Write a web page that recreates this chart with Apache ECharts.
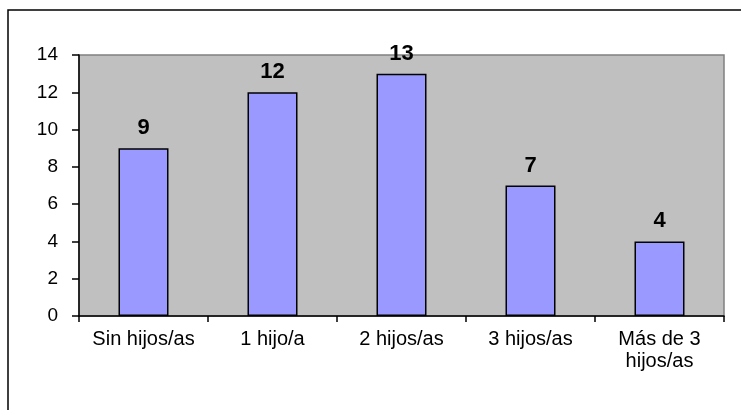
<!DOCTYPE html>
<html>
<head>
<meta charset="utf-8">
<script src="https://cdn.jsdelivr.net/npm/echarts@6/dist/echarts.min.js"></script>
<style>
  html, body { margin: 0; padding: 0; background: #fff; }
  #chart { width: 741px; height: 410px; }
</style>
</head>
<body>
<div id="chart"></div>
<script>
const categories = ['Sin hijos/as', '1 hijo/a', '2 hijos/as', '3 hijos/as', 'Más de 3\nhijos/as'];
const counts = [9, 12, 13, 7, 4];
const yTicks = { min: 0, max: 14, step: 2 };

const chart = echarts.init(document.getElementById('chart'));
const font = 'Liberation Sans, Arial, sans-serif';

chart.setOption({
  animation: false,
  graphic: [
    {
      type: 'rect',
      shape: { x: 8, y: 10, width: 750, height: 420 },
      style: { fill: 'none', stroke: '#000', lineWidth: 1.5 },
      z: -1
    }
  ],
  grid: {
    left: 79, right: 17, top: 55, bottom: 94,
    show: true,
    backgroundColor: '#C0C0C0',
    borderColor: '#808080',
    borderWidth: 1.5
  },
  xAxis: {
    type: 'category',
    data: categories,
    axisLine: { lineStyle: { color: '#000', width: 1.5 } },
    axisTick: { show: true, length: 6, lineStyle: { color: '#000', width: 1.5 } },
    axisLabel: {
      interval: 0, margin: 12, color: '#000',
      fontFamily: font, fontSize: 20, lineHeight: 22
    }
  },
  yAxis: {
    type: 'value',
    min: yTicks.min, max: yTicks.max, interval: yTicks.step,
    splitLine: { show: false },
    axisLine: { show: true, lineStyle: { color: '#000', width: 1.5 } },
    axisTick: { show: true, length: 7, lineStyle: { color: '#000', width: 1.5 } },
    axisLabel: { margin: 21, color: '#000', fontFamily: font, fontSize: 19 }
  },
  series: [
    {
      type: 'bar',
      data: counts,
      barWidth: 50,
      itemStyle: { color: '#9999FF', borderColor: '#000', borderWidth: 1.5 },
      label: {
        show: true, position: 'top', distance: 9,
        color: '#000', fontFamily: font, fontWeight: 'bold', fontSize: 22
      }
    }
  ]
});
</script>
</body>
</html>
